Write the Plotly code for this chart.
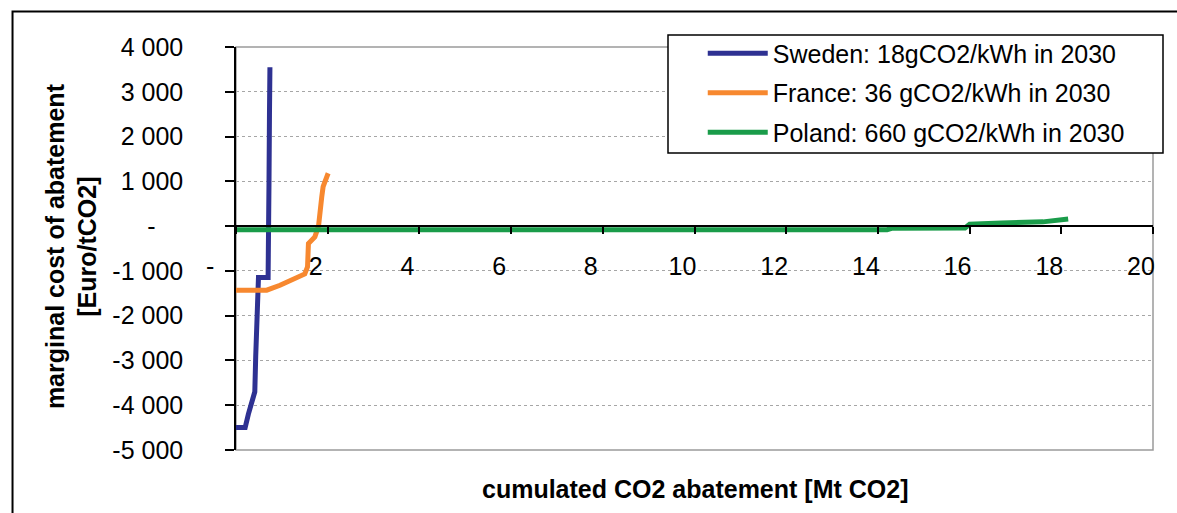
import plotly.graph_objects as go

# Marginal abatement cost curves, 2030 power sector scenarios
sweden_x = [0.00, 0.20, 0.27, 0.37, 0.41, 0.43, 0.46, 0.49, 0.70, 0.70, 0.70, 0.72, 0.73, 0.74]
sweden_y = [-4500, -4500, -4200, -3900, -3700, -2900, -1950, -1150, -1150, 0, 900, 1000, 2500, 3550]

france_x = [0.00, 0.67, 0.96, 1.32, 1.50, 1.56, 1.58, 1.72, 1.80, 1.87, 1.90, 1.98, 2.01]
france_y = [-1430, -1430, -1320, -1145, -1070, -910, -390, -240, 0, 650, 880, 1100, 1180]

poland_x = [0.00, 14.20, 14.30, 15.90, 16.00, 16.60, 16.70, 17.60, 17.75, 17.95, 18.15]
poland_y = [-80, -80, -50, -40, 40, 50, 70, 95, 110, 150, 160]

series_names = [
    "Sweden: 18gCO2/kWh in 2030",
    "France: 36 gCO2/kWh in 2030",
    "Poland: 660 gCO2/kWh in 2030",
]
series_colors = ["#2E3192", "#F7882F", "#1A9C4A"]

x_ticks = [0, 2, 4, 6, 8, 10, 12, 14, 16, 18, 20]
x_ticklabels = ["-\u00a0\u00a0\u00a0\u00a0", "2", "4", "6", "8", "10", "12", "14", "16", "18", "20"]
y_ticks = [-5000, -4000, -3000, -2000, -1000, 0, 1000, 2000, 3000, 4000]
y_ticklabels = ["-5 000", "-4 000", "-3 000", "-2 000", "-1 000", "-\u00a0\u00a0\u00a0\u00a0",
                "1 000", "2 000", "3 000", "4 000"]

FONT = "Liberation Sans, Arial, sans-serif"
FS = 25

fig = go.Figure()
for i, (xs, ys) in enumerate([(sweden_x, sweden_y), (france_x, france_y), (poland_x, poland_y)]):
    fig.add_trace(go.Scatter(
        x=xs, y=ys, mode="lines", name=series_names[i],
        line=dict(color=series_colors[i], width=5),
        legendgroup=f"g{i}",
    ))

fig.update_layout(
    width=1177, height=513,
    margin=dict(l=236, r=24, t=47, b=63),
    paper_bgcolor="white", plot_bgcolor="white",
    font=dict(family=FONT, size=FS, color="black"),
    showlegend=True,
    legend=dict(
        x=0.509, y=1.041, xanchor="left", yanchor="top",
        bgcolor="rgba(0,0,0,0)", borderwidth=0,
        font=dict(family=FONT, size=FS, color="black"),
        tracegroupgap=4, itemwidth=60,
    ),
    xaxis=dict(
        range=[0, 20], tickvals=x_ticks, ticktext=x_ticklabels,
        anchor="free", position=5000 / 9000,
        showline=True, linecolor="black", linewidth=1.5,
        ticks="outside", ticklen=7, tickcolor="black", tickwidth=1.5,
        showgrid=False, zeroline=False,
        ticklabelshift=-12, ticklabelstandoff=11,
        tickfont=dict(family=FONT, size=FS),
    ),
    yaxis=dict(
        range=[-5000, 4000], tickvals=y_ticks, ticktext=y_ticklabels,
        showline=True, linecolor="black", linewidth=1.5,
        ticks="outside", ticklen=9, tickcolor="black", tickwidth=1.5,
        showgrid=True, gridcolor="#A6A6A6", gridwidth=1, griddash="dot",
        zeroline=False,
        ticklabelstandoff=37,
        tickfont=dict(family=FONT, size=FS),
    ),
    shapes=[
        # plot area frame
        dict(type="rect", xref="x domain", yref="y domain", x0=0, x1=1, y0=0, y1=1,
             line=dict(color="#9A9A9A", width=1.5), layer="below"),
        # legend box
        dict(type="rect", xref="paper", yref="paper",
             x0=(668 - 236) / 917, x1=(1163 - 236) / 917,
             y0=(450 - 153) / 403, y1=(450 - 35) / 403,
             line=dict(color="black", width=1.5), fillcolor="white", layer="above"),
        # outer chart frame
        dict(type="rect", xref="paper", yref="paper", x0=-0.2437, x1=1.05, y0=-0.25, y1=1.0881,
             line=dict(color="black", width=2)),
    ],
    annotations=[
        dict(text="<b>marginal cost of abatement<br>[Euro/tCO2]</b>", xref="paper", yref="paper",
             x=-0.1799, y=0.506, xanchor="center", yanchor="middle", textangle=-90,
             showarrow=False, font=dict(family=FONT, size=FS)),
        dict(text="<b>cumulated CO2 abatement [Mt CO2]</b>", xref="paper", yref="paper",
             x=0.5, y=-0.0968, xanchor="center", yanchor="middle",
             showarrow=False, font=dict(family=FONT, size=FS)),
    ],
)

fig.write_html("out.html")
